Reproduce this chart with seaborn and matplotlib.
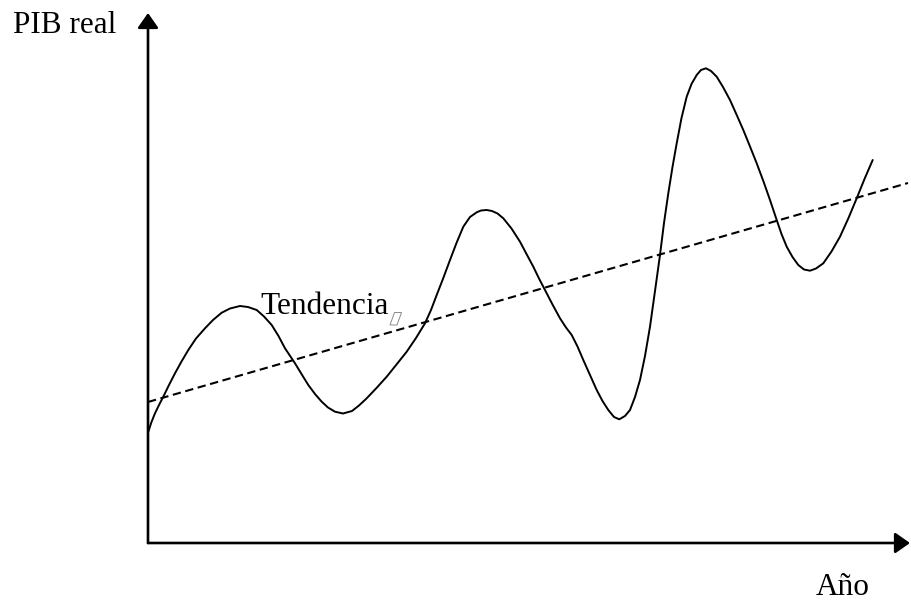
import numpy as np
import pandas as pd
import matplotlib
matplotlib.use("Agg")
import matplotlib.pyplot as plt
from matplotlib.patches import Polygon
import seaborn as sns

# ---- data (origin at axes corner) ----
anio = [0.3, 3.5, 7, 11, 15.3, 21, 27, 33.5, 40.3, 48, 57, 65, 73.7, 82, 92, 100, 108.7, 116,
        123.7, 130.5, 137, 147, 153.5, 160.3, 167, 173.7, 180, 187, 195, 204, 211, 218.7,
        228.5, 238.7, 248.5, 258.7, 268, 277, 283, 288.7, 295.5, 302, 308.5, 315.3, 322,
        328.7, 333, 338.7, 344, 349.5, 355.3, 363.5, 372, 378.5, 385.3, 391, 397, 404.5, 412,
        418, 423.7, 429.5, 435.3, 442, 448.7, 454.5, 460.3, 466, 471.3, 477, 482, 487, 492,
        497, 502, 507, 512, 516, 520.3, 524.5, 528.7, 533.5, 538.7, 543.5, 548.7, 553, 558,
        563, 568.7, 575, 582, 588.5, 595.3, 602, 608.7, 615.5, 622, 628.7, 633.5, 638.7,
        644.5, 650.3, 656, 662, 668, 675.3, 683.5, 692, 700.5, 708.7, 716.5, 724.7]
pib = [111.3, 121, 129.7, 138, 146.3, 158, 169.7, 181.5, 193, 204.5, 214.7, 223, 230.3, 234.5,
       237, 236, 233, 226.5, 218, 207, 194.7, 179.7, 169, 158, 149, 141.3, 135.5, 131.3,
       129.5, 132, 137.5, 144.7, 155, 166.3, 178.5, 191.3, 205, 219.7, 233, 248, 265.5, 283,
       300, 316.3, 326, 330.7, 332.5, 333, 332, 329.5, 324.7, 314.5, 301.3, 289, 276.3,
       264.5, 253, 238.5, 224.7, 215.5, 208, 196.5, 183, 168, 153, 142, 133, 126, 123.7,
       127, 133, 146, 163, 187, 216.3, 252, 288, 320, 349.7, 376, 399.7, 425, 446.3, 459,
       468, 473, 474.7, 472, 466.3, 456, 443, 428.5, 413, 396.5, 379.7, 361.5, 343, 323, 309,
       296.3, 286, 278, 273.5, 272.3, 274.5, 279.7, 291.5, 306.3, 325, 344.7, 364, 383]

tendencia_x = [0, 760]
tendencia_y = [141, 360]

etiqueta_y = "PIB real"
etiqueta_x = "Año"
etiqueta_tend = "Tendencia"

# ---- plot ----
sns.set_theme(style="white")
plt.rcParams["font.family"] = ["Liberation Serif", "DejaVu Serif"]

fig = plt.figure(figsize=(9.11, 6.03), dpi=100)
ax = fig.add_axes([0, 0, 1, 1])

sns.lineplot(x=anio, y=pib, sort=False, estimator=None, color="black",
             linewidth=1.4, ax=ax)
ax.lines[-1].set_solid_joinstyle("round")
ax.lines[-1].set_solid_capstyle("round")
sns.lineplot(x=tendencia_x, y=tendencia_y, sort=False, estimator=None, color="black",
             linewidth=1.5, dashes=False, ax=ax)
ax.lines[-1].set_linestyle((0, (4, 2.2)))

ax.set_xlim(-148, 763)
ax.set_ylim(-60, 543)
ax.axis("off")

arrow = dict(arrowstyle="-|>,head_length=0.6,head_width=0.42", mutation_scale=15,
             lw=1.9, color="black", shrinkA=0, shrinkB=0)
ax.annotate("", xy=(0, 530), xytext=(0, 0), arrowprops=arrow)
ax.annotate("", xy=(762, 0), xytext=(0, 0), arrowprops=arrow)

ax.text(-135, 510, etiqueta_y, fontsize=22.5, ha="left", va="baseline", color="black")
ax.text(668, -52, etiqueta_x, fontsize=22.5, ha="left", va="baseline", color="black")
ax.text(112, 229, etiqueta_tend, fontsize=22.5, ha="left", va="baseline", color="black")

ax.add_patch(Polygon([(242, 218), (249, 218), (253.5, 230.5), (246.5, 230.5)],
                     closed=True, fill=False, edgecolor="#8a8a8a", linewidth=0.7))

fig.savefig("out.png", dpi=100)
